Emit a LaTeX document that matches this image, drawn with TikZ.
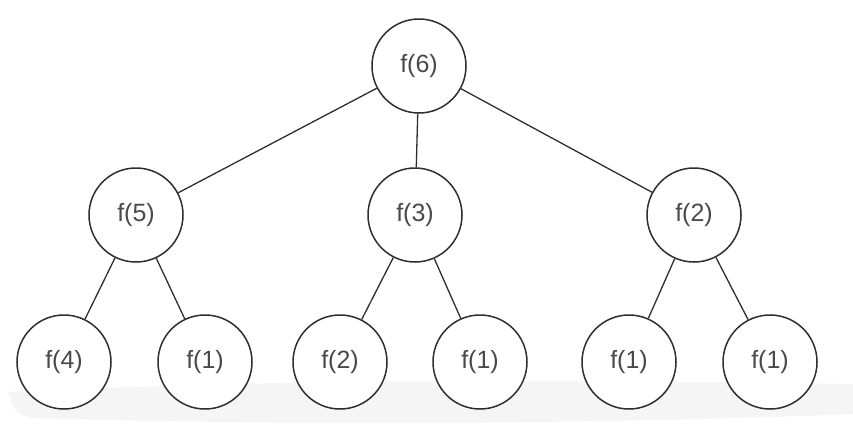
\documentclass[tikz,border=0pt]{standalone}
\usepackage{fontspec}
\setmainfont{Liberation Sans}
\definecolor{txt}{HTML}{4A4A4A}
\definecolor{ink}{HTML}{2E2E2E}
\definecolor{paperbg}{HTML}{F5F5F5}
\begin{document}
\begin{tikzpicture}[x=1pt,y=-1pt,
  fnode/.style={circle,draw=ink,line width=1.5pt,minimum size=94pt,inner sep=0pt,
    font=\fontsize{25}{28}\selectfont,text=txt,fill=white},
  link/.style={draw=ink,line width=1.3pt}]
\useasboundingbox (0,0) rectangle (853,426);
\fill[fill=paperbg] (8,392) .. controls (300,378) and (600,380) .. (853,384)
  -- (853,414) .. controls (600,424) and (300,426) .. (30,418) .. controls (15,412) .. (8,392) -- cycle;
\node[fnode] (r) at (419,66) {f(6)};
\node[fnode] (a) at (136,215) {f(5)};
\node[fnode] (b) at (415,215) {f(3)};
\node[fnode] (c) at (694,215) {f(2)};
\node[fnode] (a1) at (64,362) {f(4)};
\node[fnode] (a2) at (205,362) {f(1)};
\node[fnode] (b1) at (340,362) {f(2)};
\node[fnode] (b2) at (480,362) {f(1)};
\node[fnode] (c1) at (629,362) {f(1)};
\node[fnode] (c2) at (770,362) {f(1)};
\path[link] (r) -- (a);
\path[link] (r) -- (b);
\path[link] (r) -- (c);
\path[link] (a) -- (a1);
\path[link] (a) -- (a2);
\path[link] (b) -- (b1);
\path[link] (b) -- (b2);
\path[link] (c) -- (c1);
\path[link] (c) -- (c2);
\end{tikzpicture}
\end{document}
